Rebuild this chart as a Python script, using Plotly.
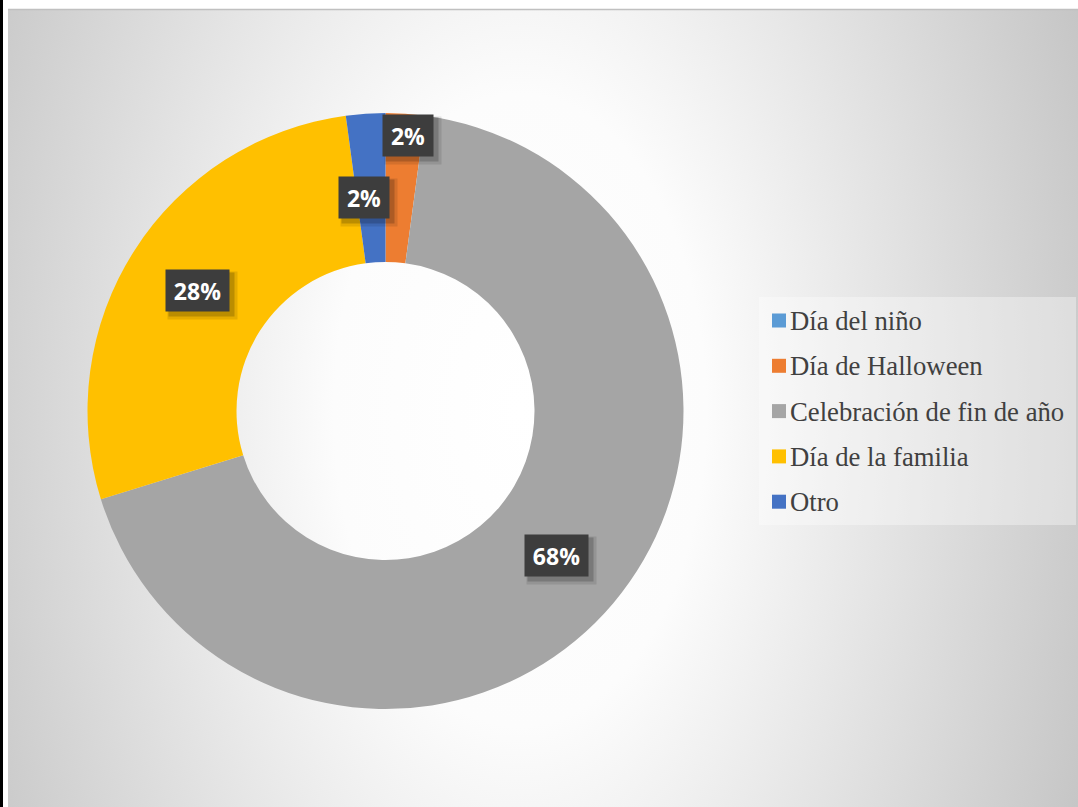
import base64
import math
import plotly.graph_objects as go

# ---- data -------------------------------------------------------------
categories = ["Día del niño", "Día de Halloween", "Celebración de fin de año",
              "Día de la familia", "Otro"]
counts = [0, 1, 32, 13, 1]
colors = ["#5B9BD5", "#ED7D31", "#A5A5A5", "#FFC000", "#4472C4"]

# ---- page geometry (pixels) -------------------------------------------
W, H = 1078, 807
M_T, M_B = 113, 98
PLOT_H = H - M_T - M_B            # 596 -> pie radius 298
PIE_CX = 385.5
R = PLOT_H / 2
HOLE = 0.5

def px_to_paper(x, y):
    return x / W, (H - M_B - y) / PLOT_H

# label nudges (xshift, yshift in px) for the crowded thin slices
label_nudge = {1: (8, 52), 4: (-7, -10)}

fig = go.Figure()

fig.add_trace(go.Pie(
    labels=categories,
    values=counts,
    marker=dict(colors=colors, line=dict(width=0)),
    hole=HOLE,
    sort=False,
    direction="clockwise",
    rotation=0,
    textinfo="none",
    hovertemplate="%{label}: %{percent}<extra></extra>",
    showlegend=False,
    domain=dict(x=[(PIE_CX - R) / W, (PIE_CX + R) / W], y=[0, 1]),
))

# ---- background: soft radial grey gradient ----------------------------
BG_X0, BG_Y0 = 8, 10
bw, bh = W - BG_X0, H - BG_Y0
gcx, gcy = 520 - BG_X0, 410 - BG_Y0
svg = f"""<svg xmlns='http://www.w3.org/2000/svg' width='{bw}' height='{bh}' viewBox='0 0 {bw} {bh}' preserveAspectRatio='none'>
<defs><radialGradient id='g' gradientUnits='userSpaceOnUse' cx='{gcx}' cy='{gcy}' r='620'
 gradientTransform='translate({gcx} {gcy}) scale(1 1.7) translate({-gcx} {-gcy})'>
<stop offset='0' stop-color='#ffffff'/><stop offset='0.3' stop-color='#fcfcfc'/>
<stop offset='1' stop-color='#c4c4c4'/></radialGradient></defs>
<rect width='{bw}' height='{bh}' fill='url(#g)'/></svg>"""
src = "data:image/svg+xml;base64," + base64.b64encode(svg.encode()).decode()
x0p, y0p = px_to_paper(BG_X0, BG_Y0)
fig.add_layout_image(dict(source=src, xref="paper", yref="paper",
                          x=x0p, y=y0p, sizex=bw / W, sizey=bh / PLOT_H,
                          xanchor="left", yanchor="top", sizing="stretch",
                          layer="below"))

shapes = []
# frame lines
_, ytop = px_to_paper(0, 0)
_, ybot = px_to_paper(0, H)
shapes.append(dict(type="rect", xref="paper", yref="paper", x0=0, x1=3 / W,
                   y0=ybot, y1=ytop, fillcolor="#000000", line=dict(width=0)))
yl = px_to_paper(0, 9.5)[1]
shapes.append(dict(type="line", xref="paper", yref="paper", x0=BG_X0 / W, x1=1,
                   y0=yl, y1=yl, line=dict(color="#c0c0c0", width=1.5)))

# ---- data labels: dark boxes with white bold text ---------------------
annotations = []
total = sum(counts)
cum = 0
for i, v in enumerate(counts):
    start = cum
    cum += v
    if v == 0:
        continue
    mid = math.radians((start + v / 2) / total * 360)
    rr = R * (1 + HOLE) / 2
    lx = PIE_CX + rr * math.sin(mid)
    ly = M_T + R - rr * math.cos(mid)
    ax, ay = px_to_paper(lx, ly)
    dx, dy = label_nudge.get(i, (0, 0))
    txt = f"{round(v / total * 100)}%"
    bwid = 13 * len(txt) + 24
    common = dict(x=ax, y=ay, xref="paper", yref="paper", showarrow=False,
                  xanchor="center", yanchor="middle", borderpad=0)
    # soft drop shadow
    for off, alpha, grow in [(5, 0.10, 6), (4, 0.18, 2)]:
        annotations.append(dict(common, text="",
                                xshift=dx + off, yshift=dy - off,
                                width=bwid + grow, height=41 + grow,
                                bgcolor=f"rgba(0,0,0,{alpha})"))
    annotations.append(dict(common, text=f"<b>{txt}</b>",
                            xshift=dx, yshift=dy, width=bwid, height=41,
                            bgcolor="#3d3d3d",
                            font=dict(family="Open Sans", size=23, color="#ffffff")))

# ---- legend box ---------------------------------------------------------
lx0, ly1 = px_to_paper(759, 297)
lx1, ly0 = px_to_paper(1076, 525)
shapes.append(dict(type="rect", xref="paper", yref="paper", x0=lx0, x1=lx1,
                   y0=ly0, y1=ly1, fillcolor="rgba(255,255,255,0.35)",
                   line=dict(width=0), layer="below"))
LEG_Y0, LEG_STEP = 320.5, 45.3
for i, (name, col) in enumerate(zip(categories, colors)):
    yc = LEG_Y0 + i * LEG_STEP
    sx0, sy0 = px_to_paper(772, yc + 7)
    sx1, sy1 = px_to_paper(786, yc - 7)
    shapes.append(dict(type="rect", xref="paper", yref="paper",
                       x0=sx0, x1=sx1, y0=sy0, y1=sy1,
                       fillcolor=col, line=dict(width=0)))
    tx, ty = px_to_paper(788, yc + 0.5)
    annotations.append(dict(x=tx, y=ty, xref="paper", yref="paper",
                            text=name, showarrow=False, xanchor="left",
                            yanchor="middle",
                            font=dict(family="Liberation Serif", size=26.7,
                                      color="#404040")))

fig.update_layout(
    width=W, height=H,
    margin=dict(l=0, r=0, t=M_T, b=M_B),
    paper_bgcolor="#ffffff",
    plot_bgcolor="rgba(0,0,0,0)",
    shapes=shapes,
    annotations=annotations,
)

fig.write_html("out.html")
